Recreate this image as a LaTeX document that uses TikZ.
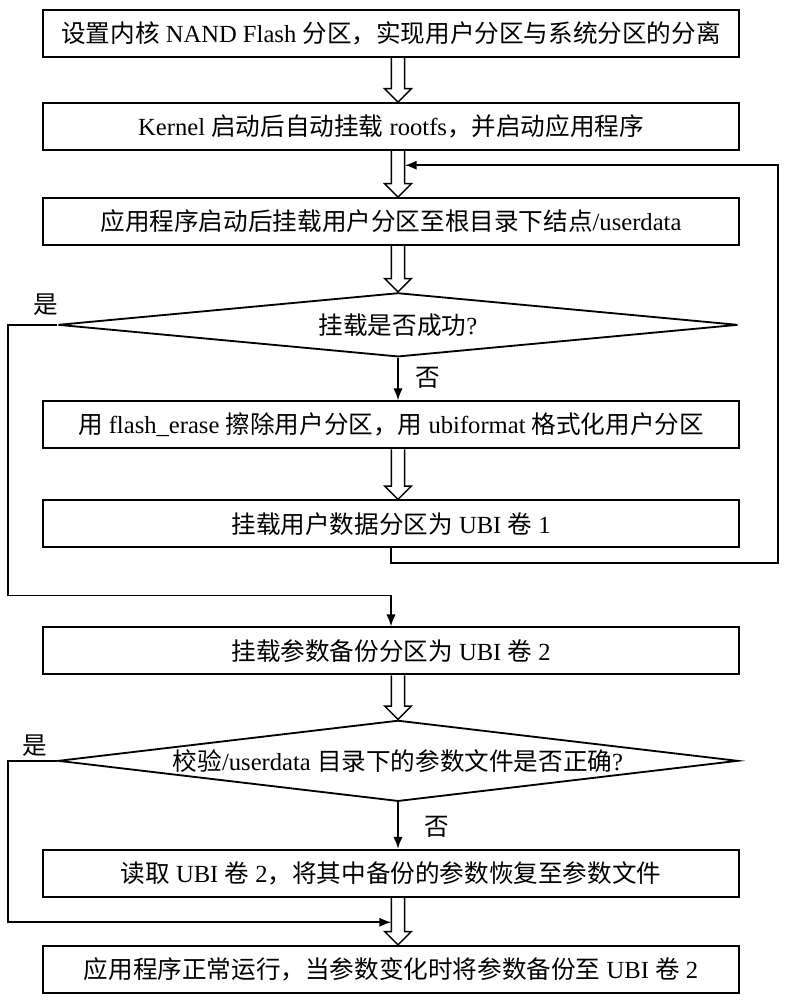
\documentclass[tikz,border=0pt]{standalone}
\usepackage{fontspec}
\setmainfont{Liberation Serif}
\newfontfamily\cjk{Noto Sans CJK SC}
\usetikzlibrary{shapes.geometric,calc,arrows.meta}

\newcommand{\hollowarrow}[2]{%
  \draw[hollow] let \p1=(#1.south), \p2=(#2.north) in
    (\x1+0.1mm,\y1) -- (\x1+0.1mm,\y2+4mm) -- (\x1-1.9mm,\y2+4mm) -- (\x1+2.1mm,\y2)
    -- (\x1+6.1mm,\y2+4mm) -- (\x1+4.1mm,\y2+4mm) -- (\x1+4.1mm,\y1);}

\begin{document}
\begin{tikzpicture}[>={Latex[length=3.6mm,width=2.8mm]}, line width=0.55mm,
  every node/.style={font=\fontsize{21}{25}\selectfont},
  block/.style={rectangle, draw, line width=0.55mm, minimum width=208.8mm, minimum height=14.1mm, inner sep=0pt},
  decision/.style={diamond, draw, line width=0.55mm, aspect=8.5, inner sep=0pt, minimum width=204mm},
  hollow/.style={line width=0.45mm, line join=miter}]

    \useasboundingbox (0,0) rectangle (235.5mm,-300mm);

    \node[block] (part) at (117.3mm,-10.05mm) {{\cjk 设置内核} NAND Flash {\cjk 分区，实现用户分区与系统分区的分离}};
    \node[block, below of=part, node distance=27.9mm] (boot) {Kernel {\cjk 启动后自动挂载} rootfs{\cjk ，并启动应用程序}};
    \node[block, below of=boot, node distance=28.5mm] (mountud) {{\cjk 应用程序启动后挂载用户分区至根目录下结点}/userdata};
    \node[decision, below of=mountud, node distance=31mm, xshift=2.1mm, minimum height=19.2mm] (check1) {{\cjk 挂载是否成功}?};
    \node[block, below of=check1, node distance=30mm, xshift=-2.1mm] (erase) {{\cjk 用} flash\_erase {\cjk 擦除用户分区，用} ubiformat {\cjk 格式化用户分区}};
    \node[block, below of=erase, node distance=29.7mm] (ubi1) {{\cjk 挂载用户数据分区为} UBI {\cjk 卷} 1};
    \node[block, below of=ubi1, node distance=38.1mm] (param) {{\cjk 挂载参数备份分区为} UBI {\cjk 卷} 2};
    \node[decision, below of=param, node distance=33mm, xshift=2.1mm, minimum height=24.3mm] (check2) {{\cjk 校验}/userdata {\cjk 目录下的参数文件是否正确}?};
    \node[block, below of=check2, node distance=33.75mm, xshift=-2.1mm] (restore) {{\cjk 读取} UBI {\cjk 卷} 2{\cjk ，将其中备份的参数恢复至参数文件}};
    \node[block, below of=restore, node distance=28.8mm] (run) {{\cjk 应用程序正常运行，当参数变化时将参数备份至} UBI {\cjk 卷} 2};

    \coordinate (rrail) at (233.4mm,0);
    \coordinate (lrail) at (2.4mm,0);
    \coordinate (fbin) at ($(boot.south)!0.31!(mountud.north)+(4.1mm,0)$);
    \coordinate (fbin2) at ($(restore.south)!0.52!(run.north)+(0.1mm,0)$);
    \coordinate (turn1) at ($(param.north)+(0,9.3mm)$);

    \hollowarrow{part}{boot}
    \hollowarrow{boot}{mountud}
    \hollowarrow{mountud}{check1}
    \hollowarrow{erase}{ubi1}
    \hollowarrow{param}{check2}
    \hollowarrow{restore}{run}

    \draw[->] (check1.south) -- node[right, pos=0.47, xshift=3.9mm] {\cjk 否} (check1.south |- erase.north);
    \draw[->] (check2.south) -- node[right, pos=0.52, xshift=6.5mm] {\cjk 否} (check2.south |- restore.north);
    \draw[->] (ubi1.south) -- ++(0,-4.5mm) -| (rrail |- fbin) -- (fbin);
    \draw[->] (check1.west) -- node[above, pos=0.22, yshift=1.5mm] {\cjk 是} (lrail |- check1.west) |- (turn1) -- (param.north);
    \draw[->] (check2.west) -- node[above, pos=0.46] {\cjk 是} (lrail |- check2.west) |- (fbin2);
  \end{tikzpicture}
\end{document}
